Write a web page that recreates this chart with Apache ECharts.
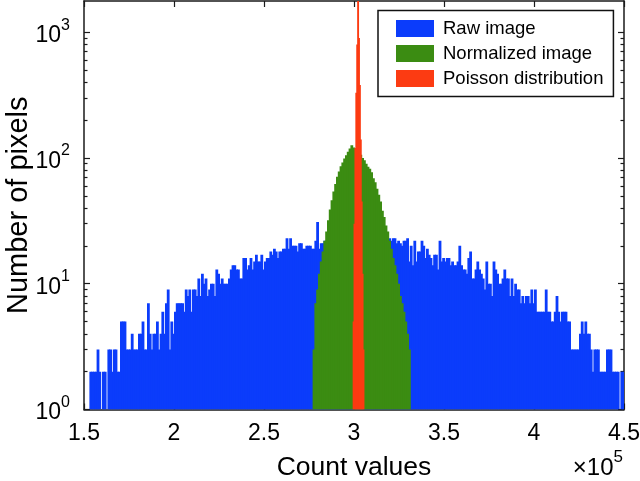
<!DOCTYPE html>
<html><head><meta charset="utf-8">
<script src="https://cdn.jsdelivr.net/npm/echarts@6/dist/echarts.min.js"></script>
<style>html,body{margin:0;padding:0;background:#fff}#c{width:640px;height:481px}</style>
</head><body><div id="c"></div>
<script>
// ---------------- data ----------------
const seriesNames = ['Raw image', 'Normalized image', 'Poisson distribution'];

// Raw image histogram (bin start, bin width, counts per bin)
const rawBinStart = 150000;
const rawBinWidth = 1000;
const rawCounts = [
  1,1,1,2,2,2,2,3,2,1,
  2,2,1,3,3,2,3,3,2,2,
  5,5,5,3,3,3,4,3,3,3,
  4,4,5,3,3,7,4,3,4,4,
  5,3,4,6,4,7,9,3,5,4,
  6,7,7,7,7,6,9,8,9,6,
  9,9,8,11,8,12,10,11,8,9,
  10,10,8,13,12,10,11,10,10,10,
  11,13,14,14,13,13,11,11,16,16,
  13,14,16,13,15,17,15,15,17,13,
  15,16,16,18,17,19,18,16,18,18,
  19,19,23,19,23,20,20,20,18,21,
  21,19,19,20,20,20,19,19,22,31,
  19,21,21,22,22,24,21,23,25,22,
  24,26,23,21,25,24,22,27,23,24,
  22,25,23,26,24,21,23,25,22,24,
  23,21,24,22,23,20,22,24,21,23,
  22,23,23,21,22,21,20,22,22,23,
  15,20,14,22,15,18,18,22,20,16,
  19,17,16,14,17,17,13,22,15,16,
  15,16,16,14,15,14,14,15,20,14,
  13,13,12,16,18,11,11,13,15,13,
  12,11,9,15,10,10,8,15,13,12,
  10,10,11,13,11,11,8,11,8,10,
  9,9,7,8,7,8,8,7,9,7,
  9,6,6,6,6,6,9,6,6,5,
  5,6,8,6,5,6,6,6,5,5,
  3,3,3,3,3,4,5,4,5,4,
  4,3,2,3,3,3,2,2,2,2,
  3,3,3,2,2,2,2,1,2,2
];

// Normalized image histogram
const normBinStart = 277000;
const normBinWidth = 1000;
const normCounts = [
  3,7,9,12,15,18,22,26,32,39,
  46,54,62,71,78,86,92,99,105,112,
  119,126,121,119,115,110,106,100,96,90,
  85,82,77,69,64,57,51,45,38,34,
  29,26,22,19,16,14,12,10,8,7,
  6,5,4,3
];

// Poisson distribution histogram
const poissonBinStart = 299250;
const poissonBinWidth = 500;
const poissonCounts = [5,30,120,330,800,2000,900,380,140,45,12,3];

// axes
const xMin = 150000, xMax = 450000, xStep = 50000;
const xScaleExp = 5;
const yMin = 1, yMax = 1770;
const yMajorTicks = [1, 10, 100, 1000];
const yMinorTicks = [2,3,4,5,6,7,8,9,20,30,40,50,60,70,80,90,200,300,400,500,600,700,800,900];

const colors = ['#0b3cfb', '#3b8c12', '#fc3b12'];
const FONT = '"Liberation Sans", Arial, Helvetica, sans-serif';
const AX = '#1a1a1a';

function bins(start, width, counts) {
  return counts.map((c, i) => [start + i * width, start + (i + 1) * width, c]);
}

const chart = echarts.init(document.getElementById('c'), null, {renderer: 'canvas'});

function renderBin(params, api) {
  const v = api.value(2);
  if (!(v > 1)) return null;
  const p0 = api.coord([api.value(0), v]);
  const p1 = api.coord([api.value(1), yMin]);
  const color = api.visual('color');
  return {
    type: 'rect',
    shape: {x: p0[0], y: p0[1], width: p1[0] - p0[0] + 1, height: p1[1] - p0[1]},
    style: {fill: color, stroke: null},
    silent: true
  };
}

function mkSeries(name, color, data, z) {
  return {
    name, type: 'custom', renderItem: renderBin, data,
    encode: {x: [0, 1], y: 2},
    color, itemStyle: {color},
    clip: true, z, silent: true, animation: false
  };
}

const baseY = {
  type: 'log', logBase: 10, min: yMin, max: yMax, splitLine: {show: false}
};

chart.setOption({
  animation: false,
  backgroundColor: '#fff',
  grid: {left: 84, right: 16, top: 1, bottom: 71.5, containLabel: false, outerBoundsMode: 'none'},
  legend: {
    orient: 'vertical', left: 378, top: 10.5,
    padding: [8.5, 10, 8.5, 18],
    itemWidth: 38, itemHeight: 17, itemGap: 6, icon: 'rect',
    borderColor: '#111', borderWidth: 1.5, backgroundColor: '#fff',
    textStyle: {fontSize: 18.5, lineHeight: 17, color: '#000', fontFamily: FONT, padding: [0, 0, 0, 4]},
    data: seriesNames.map((n, i) => ({name: n, itemStyle: {color: colors[i]}})),
    selectedMode: false
  },
  xAxis: [
    {
      type: 'value', position: 'bottom', min: xMin, max: xMax, interval: xStep,
      name: 'Count values', nameLocation: 'middle', nameGap: 45, nameMoveOverlap: false,
      nameTextStyle: {fontSize: 26.5, color: '#000', fontFamily: FONT},
      axisLine: {show: true, lineStyle: {color: AX, width: 1.5}},
      axisTick: {show: true, inside: true, length: 6, lineStyle: {color: AX, width: 1.2}},
      axisLabel: {show: true, margin: 13, fontSize: 23, color: '#000', fontFamily: FONT,
        formatter: v => String(+(v / Math.pow(10, xScaleExp)).toFixed(1))},
      splitLine: {show: false}
    },
    {
      type: 'value', position: 'top', min: xMin, max: xMax, interval: xStep,
      axisLine: {show: true, lineStyle: {color: AX, width: 1.5}},
      axisTick: {show: true, inside: true, length: 6, lineStyle: {color: AX, width: 1.2}},
      axisLabel: {show: false}, splitLine: {show: false}
    }
  ],
  yAxis: [
    Object.assign({}, baseY, {
      position: 'left',
      name: 'Number of pixels', nameLocation: 'middle', nameGap: 51, nameMoveOverlap: false,
      nameTextStyle: {fontSize: 29, color: '#000', fontFamily: FONT},
      axisLine: {show: true, lineStyle: {color: AX, width: 1.5}},
      axisTick: {show: true, inside: true, length: 6, customValues: yMajorTicks, lineStyle: {color: AX, width: 1.2}},
      axisLabel: {show: true, margin: 14, customValues: yMajorTicks, color: '#000', fontFamily: FONT,
        formatter: v => '{b|10}{e|' + Math.round(Math.log10(v)) + '}',
        rich: {
          b: {fontSize: 23, lineHeight: 30, verticalAlign: 'bottom', fontFamily: FONT, color: '#000'},
          e: {fontSize: 16, lineHeight: 30, verticalAlign: 'top', fontFamily: FONT, color: '#000'}
        }}
    }),
    Object.assign({}, baseY, {
      position: 'right',
      axisLine: {show: true, lineStyle: {color: AX, width: 1.5}},
      axisTick: {show: true, inside: true, length: 6, customValues: yMajorTicks, lineStyle: {color: AX, width: 1.2}},
      axisLabel: {show: false}
    }),
    Object.assign({}, baseY, {
      position: 'left',
      axisLine: {show: false},
      axisTick: {show: true, inside: true, length: 3.5, customValues: yMinorTicks, lineStyle: {color: AX, width: 1.2}},
      axisLabel: {show: false}
    }),
    Object.assign({}, baseY, {
      position: 'right',
      axisLine: {show: false},
      axisTick: {show: true, inside: true, length: 3.5, customValues: yMinorTicks, lineStyle: {color: AX, width: 1.2}},
      axisLabel: {show: false}
    })
  ],
  graphic: [{
    type: 'text', right: 17, top: 449, silent: true,
    style: {
      text: '{a|×10}{e|' + xScaleExp + '}', fill: '#000',
      rich: {
        a: {fontSize: 24, lineHeight: 31, verticalAlign: 'bottom', fontFamily: FONT, fill: '#000'},
        e: {fontSize: 17, lineHeight: 31, verticalAlign: 'top', fontFamily: FONT, fill: '#000'}
      }
    }
  }],
  series: [
    mkSeries(seriesNames[0], colors[0], bins(rawBinStart, rawBinWidth, rawCounts), 2),
    mkSeries(seriesNames[1], colors[1], bins(normBinStart, normBinWidth, normCounts), 3),
    mkSeries(seriesNames[2], colors[2], bins(poissonBinStart, poissonBinWidth, poissonCounts), 4)
  ]
});
</script></body></html>
